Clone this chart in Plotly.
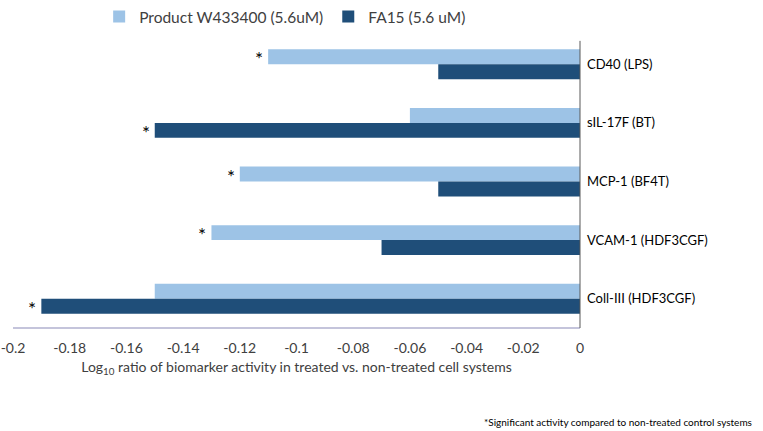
import plotly.graph_objects as go

categories = ["CD40 (LPS)", "sIL-17F (BT)", "MCP-1 (BF4T)", "VCAM-1 (HDF3CGF)", "Coll-III (HDF3CGF)"]
product_vals = [-0.11, -0.06, -0.12, -0.13, -0.15]
fa15_vals = [-0.05, -0.15, -0.05, -0.07, -0.19]
product_sig = [True, False, True, True, False]
fa15_sig = [False, True, False, False, True]
tick_vals = [-0.2, -0.18, -0.16, -0.14, -0.12, -0.1, -0.08, -0.06, -0.04, -0.02, 0]
tick_text = ["-0.2", "-0.18", "-0.16", "-0.14", "-0.12", "-0.1", "-0.08", "-0.06", "-0.04", "-0.02", "0"]

FONT = "Lato"

fig = go.Figure()
fig.add_trace(go.Bar(
    y=categories, x=product_vals, orientation="h", name="Product W433400 (5.6uM)",
    marker=dict(color="#9DC3E6", line=dict(width=0)),
))
fig.add_trace(go.Bar(
    y=categories, x=fa15_vals, orientation="h", name="FA15 (5.6 uM)",
    marker=dict(color="#1F4E79", line=dict(width=0)),
))

annotations = []
for vals, sig, shift in ((product_vals, product_sig, 7.5), (fa15_vals, fa15_sig, -7.5)):
    for cat, v, s in zip(categories, vals, sig):
        if s:
            annotations.append(dict(
                x=v, y=cat, xref="x", yref="y", text="*", showarrow=False,
                xanchor="right", yanchor="middle", xshift=-3, yshift=shift - 2,
                font=dict(family=FONT, size=19, color="#000000")))

annotations.append(dict(
    text="*Significant activity compared to non-treated control systems",
    xref="paper", yref="paper", x=1.307, y=-0.321, xanchor="right", yanchor="middle",
    showarrow=False, font=dict(family=FONT, size=10, color="#000000")))

fig.update_layout(
    width=763, height=431,
    margin=dict(l=13, r=183, t=35, b=103, autoexpand=False),
    paper_bgcolor="white", plot_bgcolor="white",
    barmode="group", bargap=0.49, bargroupgap=0,
    font=dict(family=FONT, color="#404040"),
    showlegend=True,
    legend=dict(orientation="h", x=0.48, xanchor="center", yref="container", y=1.0, yanchor="top",
                font=dict(family=FONT, size=15.5, color="#404040"),
                traceorder="normal", itemwidth=30),
    xaxis=dict(range=[-0.2, 0], tickvals=tick_vals, ticktext=tick_text, automargin=False,
               showgrid=False, zeroline=False, showline=False, ticks="", ticklabelstandoff=10,
               tickfont=dict(family=FONT, size=14, color="#404040"),
               title=dict(text="Log<sub>10</sub> ratio of biomarker activity in treated vs. non-treated cell systems",
                          font=dict(family=FONT, size=14, color="#404040"), standoff=7)),
    yaxis=dict(autorange="reversed", side="right", showgrid=False, zeroline=False, automargin=False,
               showline=False, ticks="", ticklabelstandoff=6,
               tickfont=dict(family=FONT, size=13, color="#000000")),
    shapes=[
        dict(type="line", xref="paper", yref="paper", x0=0, x1=1, y0=0, y1=0,
             line=dict(color="#8A8AB8", width=1.2)),
        dict(type="line", xref="paper", yref="paper", x0=1, x1=1, y0=0, y1=0.98,
             line=dict(color="#595959", width=1)),
    ],
    annotations=annotations,
)

fig.write_html("out.html", config={"displayModeBar": False},
               post_script="document.body.style.margin='0';")
